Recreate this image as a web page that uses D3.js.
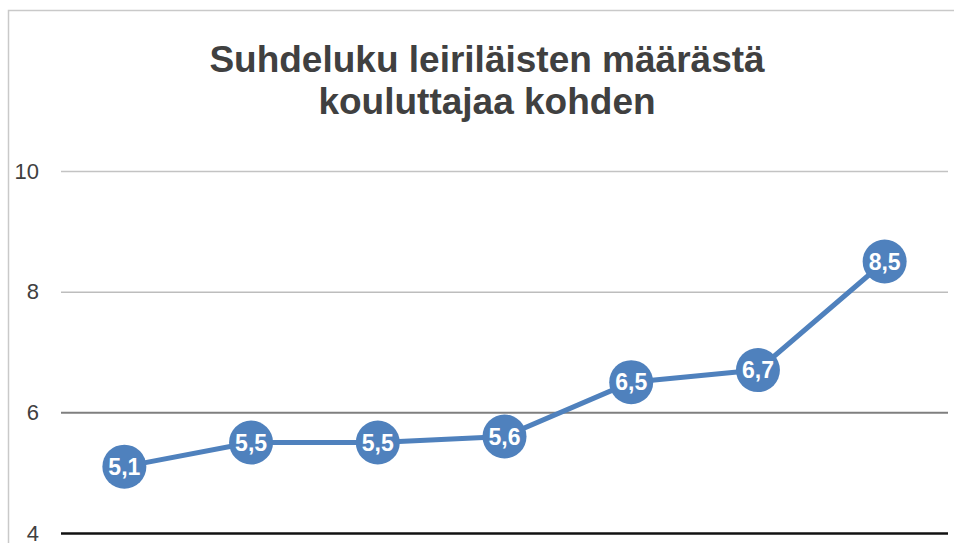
<!DOCTYPE html>
<html><head><meta charset="utf-8">
<script src="https://cdn.jsdelivr.net/npm/d3@7"></script>
<style>html,body{margin:0;padding:0;background:#fff;overflow:hidden}</style>
</head><body>
<svg id="c" width="954" height="543"></svg>
<script>
const categories = ["1","2","3","4","5","6","7"];
const values = [5.1, 5.5, 5.5, 5.6, 6.5, 6.7, 8.5];
const labels = ["5,1","5,5","5,5","5,6","6,5","6,7","8,5"];
const yTicks = [4, 6, 8, 10];
const titleLines = ["Suhdeluku leiriläisten määrästä", "kouluttajaa kohden"];

(function(){
const svg = d3.select("#c");
const font = "'Liberation Sans', Arial, sans-serif";
const pL = 61, pR = 948, pT = 171, pB = 533;

// border
svg.append("path").attr("d", `M8.5,543 V10.5 H954`).attr("fill","none").attr("stroke","#c9c9c9").attr("stroke-width",1.5);

const x = d3.scaleBand().domain(categories).range([pL, pR]).padding(0);
const y = d3.scaleLinear().domain([4, 10]).range([pB, pT]);

const gridColor = {10:"#c3c3c3", 8:"#bdbdbd", 6:"#7f7f7f", 4:"#111"};
const gridWidth = {10:1.5, 8:1.5, 6:2, 4:2.5};

const yAxis = d3.axisLeft(y).tickValues(yTicks).tickSize(0).tickPadding(22).tickFormat(d3.format("d"));
const g = svg.append("g").attr("transform", `translate(${pL},0)`).call(yAxis);
g.select(".domain").remove();
g.selectAll(".tick text").attr("font-family", font).attr("font-size", 22).attr("fill", "#404040");
g.selectAll(".tick").append("line")
  .attr("x1", 0).attr("x2", pR - pL)
  .attr("stroke", d => gridColor[d]).attr("stroke-width", d => gridWidth[d]);

// title
svg.append("text").attr("x", 487).attr("y", 72).attr("text-anchor","middle")
  .attr("font-family", font).attr("font-weight","bold").attr("font-size",37).attr("fill","#404040")
  .selectAll("tspan").data(titleLines).join("tspan")
  .attr("x", 487).attr("dy", (d,i) => i === 0 ? 0 : 42).text(d => d);

const color = "#4f81bd";
const pts = values.map((v,i) => [x(categories[i]) + x.bandwidth()/2, y(v)]);
svg.append("path").attr("d", d3.line()(pts)).attr("fill","none").attr("stroke",color).attr("stroke-width",5).attr("stroke-linejoin","round");

const pg = svg.append("g").selectAll("g").data(values).join("g")
  .attr("transform", (d,i) => `translate(${x(categories[i]) + x.bandwidth()/2},${y(d)})`);
pg.append("circle").attr("r", 22).attr("fill", color);
pg.append("text").attr("text-anchor","middle").attr("dy","0.36em")
  .attr("font-family", font).attr("font-weight","bold").attr("font-size",23).attr("fill","#fff")
  .text((d,i) => labels[i]);
})();
</script>
</body></html>
